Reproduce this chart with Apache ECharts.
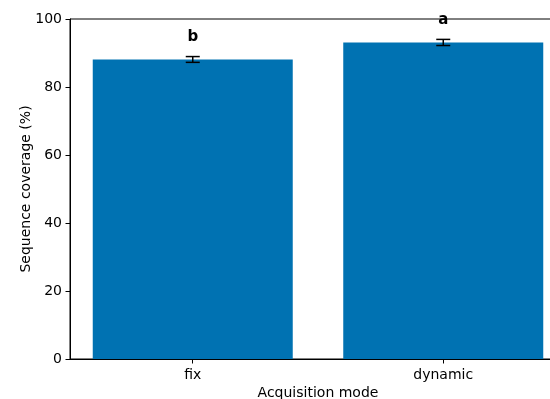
<!DOCTYPE html>
<html>
<head>
<meta charset="utf-8">
<script src="https://cdn.jsdelivr.net/npm/echarts@6/dist/echarts.min.js"></script>
<style>
  html, body { margin: 0; padding: 0; background: #fff; }
  #chart { width: 550px; height: 399px; }
</style>
</head>
<body>
<div id="chart"></div>
<script>
// Acquisition modes and their mean sequence coverage (%)
const categories = ['fix', 'dynamic'];
const coverage = [88.1, 93.1];
const coverageErr = [0.85, 0.9];
const groupLetters = ['b', 'a'];
const yTicks = [0, 20, 40, 60, 80, 100];

const FONT = 'DejaVu Sans';
const FS = 14;
const chart = echarts.init(document.getElementById('chart'), null, { renderer: 'canvas' });

const barData = categories.map((c, i) => [i, coverage[i]]);
const errData = categories.map((c, i) => [i, coverage[i], coverageErr[i]]);
const letterData = categories.map((c, i) => [i, coverage[i] + coverageErr[i]]);

chart.setOption({
  animation: false,
  backgroundColor: '#fff',
  grid: {
    left: 70, top: 19, width: 496, height: 340,
    outerBoundsMode: 'none',
    containLabel: false,
    show: true, borderColor: '#000', borderWidth: 1, backgroundColor: 'transparent'
  },
  xAxis: {
    type: 'value',
    min: -0.49,
    max: 1.49,
    name: 'Acquisition mode',
    nameLocation: 'middle',
    nameGap: 27,
    nameMoveOverlap: false,
    nameTextStyle: { fontFamily: FONT, fontSize: FS, color: '#000' },
    axisLine: { show: true, onZero: false, lineStyle: { color: '#000', width: 1 } },
    axisTick: { show: true, length: 4.5, customValues: [0, 1], lineStyle: { color: '#000', width: 1 } },
    axisLabel: {
      customValues: [0, 1],
      formatter: v => categories[Math.round(v)],
      fontFamily: FONT, fontSize: FS, color: '#000', margin: 9
    },
    splitLine: { show: false }
  },
  yAxis: {
    type: 'value',
    min: 0,
    max: 100,
    interval: 20,
    name: 'Sequence coverage (%)',
    nameLocation: 'middle',
    nameGap: 37,
    nameMoveOverlap: false,
    nameTextStyle: { fontFamily: FONT, fontSize: FS, color: '#000' },
    axisLine: { show: true, onZero: false, lineStyle: { color: '#000', width: 1 } },
    axisTick: { show: true, length: 4.5, lineStyle: { color: '#000', width: 1 } },
    axisLabel: {
      fontFamily: FONT, fontSize: FS, color: '#000', margin: 8,
      formatter: v => yTicks.includes(v) ? String(v) : ''
    },
    splitLine: { show: false }
  },
  series: [
    {
      type: 'bar',
      data: barData,
      barWidth: 200,
      itemStyle: { color: '#0072B2' }
    },
    {
      type: 'custom',
      data: errData,
      clip: false,
      z: 5,
      renderItem: (params, api) => {
        const x = api.value(0), m = api.value(1), e = api.value(2);
        const top = api.coord([x, m + e]);
        const bot = api.coord([x, m - e]);
        const cap = 7;
        const style = { stroke: '#000', lineWidth: 1.5 };
        return {
          type: 'group',
          children: [
            { type: 'line', shape: { x1: top[0], y1: top[1], x2: bot[0], y2: bot[1] }, style },
            { type: 'line', shape: { x1: top[0] - cap, y1: top[1], x2: top[0] + cap, y2: top[1] }, style },
            { type: 'line', shape: { x1: bot[0] - cap, y1: bot[1], x2: bot[0] + cap, y2: bot[1] }, style }
          ]
        };
      }
    },
    {
      type: 'custom',
      data: letterData,
      clip: false,
      z: 6,
      renderItem: (params, api) => {
        const p = api.coord([api.value(0), api.value(1)]);
        return {
          type: 'text',
          x: p[0],
          y: p[1] - 11.5,
          style: {
            text: groupLetters[params.dataIndex],
            fontFamily: FONT, fontSize: 15, fontWeight: 'bold', fill: '#000',
            align: 'center', verticalAlign: 'bottom'
          }
        };
      }
    }
  ]
});
</script>
</body>
</html>
